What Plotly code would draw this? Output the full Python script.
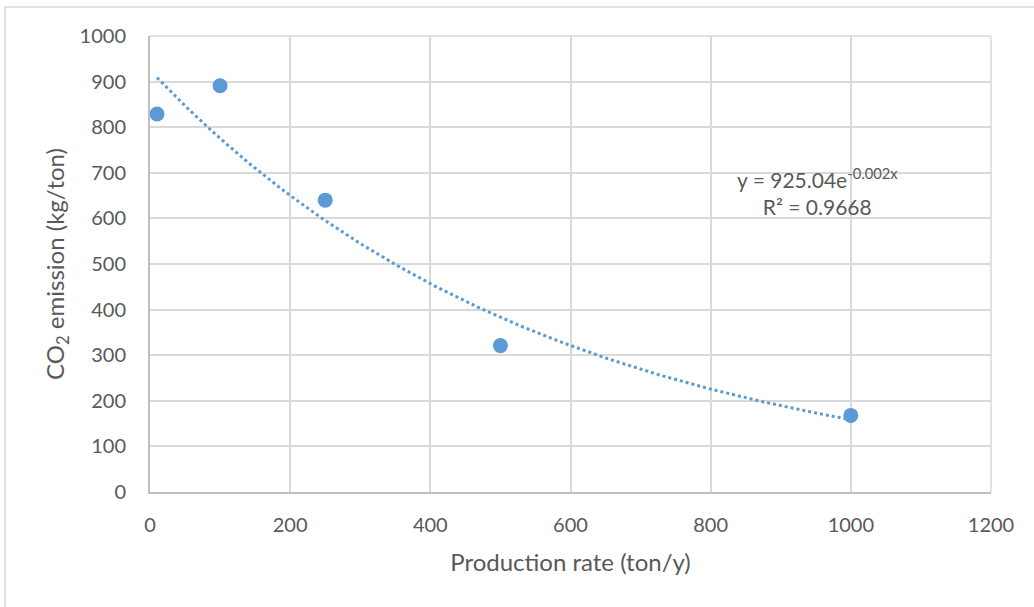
import numpy as np
import plotly.graph_objects as go

production_rate = [10, 100, 250, 500, 1000]
co2_emission = [829, 891, 640, 321, 168]

# exponential trendline fitted from the data (as Excel does)
slope, intercept = np.polyfit(production_rate, np.log(co2_emission), 1)
trend_x = np.linspace(min(production_rate), max(production_rate), 200)
trend_y = np.exp(intercept) * np.exp(slope * trend_x)

blue = "#5b9bd5"
tick_color = "#595959"
font_family = "Lato, 'Open Sans', sans-serif"

fig = go.Figure()
fig.add_trace(go.Scatter(x=trend_x, y=trend_y, mode="lines",
                         line=dict(color=blue, width=3, dash="dot"),
                         hoverinfo="skip", showlegend=False))
fig.add_trace(go.Scatter(x=production_rate, y=co2_emission, mode="markers",
                         marker=dict(color=blue, size=15),
                         showlegend=False))

fig.update_layout(
    width=1034, height=607,
    margin=dict(l=150, r=43, t=36, b=115),
    paper_bgcolor="white", plot_bgcolor="white",
    font=dict(family=font_family, color=tick_color, size=20),
    xaxis=dict(range=[0, 1200], tickvals=[0, 200, 400, 600, 800, 1000, 1200],
               showgrid=True, gridcolor="#d9d9d9", gridwidth=1.5,
               showline=True, linecolor="#bfbfbf", linewidth=2,
               zeroline=False, ticks="", ticklabelstandoff=14,
               tickfont=dict(size=20, color=tick_color),
               title=dict(text="Production rate (ton/y)", standoff=19,
                          font=dict(size=24, color=tick_color))),
    yaxis=dict(range=[0, 1000], tickvals=list(range(0, 1001, 100)),
               showgrid=True, gridcolor="#d9d9d9", gridwidth=1.5,
               showline=True, linecolor="#bfbfbf", linewidth=2,
               zeroline=False, ticks="", ticklabelstandoff=18,
               tickfont=dict(size=20, color=tick_color),
               title=dict(text="CO<sub>2</sub> emission (kg/ton)", standoff=8,
                          font=dict(size=24, color=tick_color))),
    annotations=[
        dict(x=0.794, y=0.658, xref="paper", yref="paper", showarrow=False,
             xanchor="center", yanchor="middle",
             text="y = 925.04e<sup>-0.002x</sup><br>R² = 0.9668",
             font=dict(size=21, color=tick_color), align="center"),
    ],
    shapes=[
        dict(type="rect", xref="paper", yref="paper",
             x0=-0.1724, x1=1.2, y0=-0.6, y1=1.0636,
             line=dict(color="#d9d9d9", width=1.5), layer="below"),
        dict(type="line", xref="paper", yref="paper",
             x0=0, x1=1, y0=1, y1=1, line=dict(color="#d9d9d9", width=1.5)),
        dict(type="line", xref="paper", yref="paper",
             x0=1, x1=1, y0=0, y1=1, line=dict(color="#d9d9d9", width=1.5)),
    ],
)

fig.write_html("out.html")
